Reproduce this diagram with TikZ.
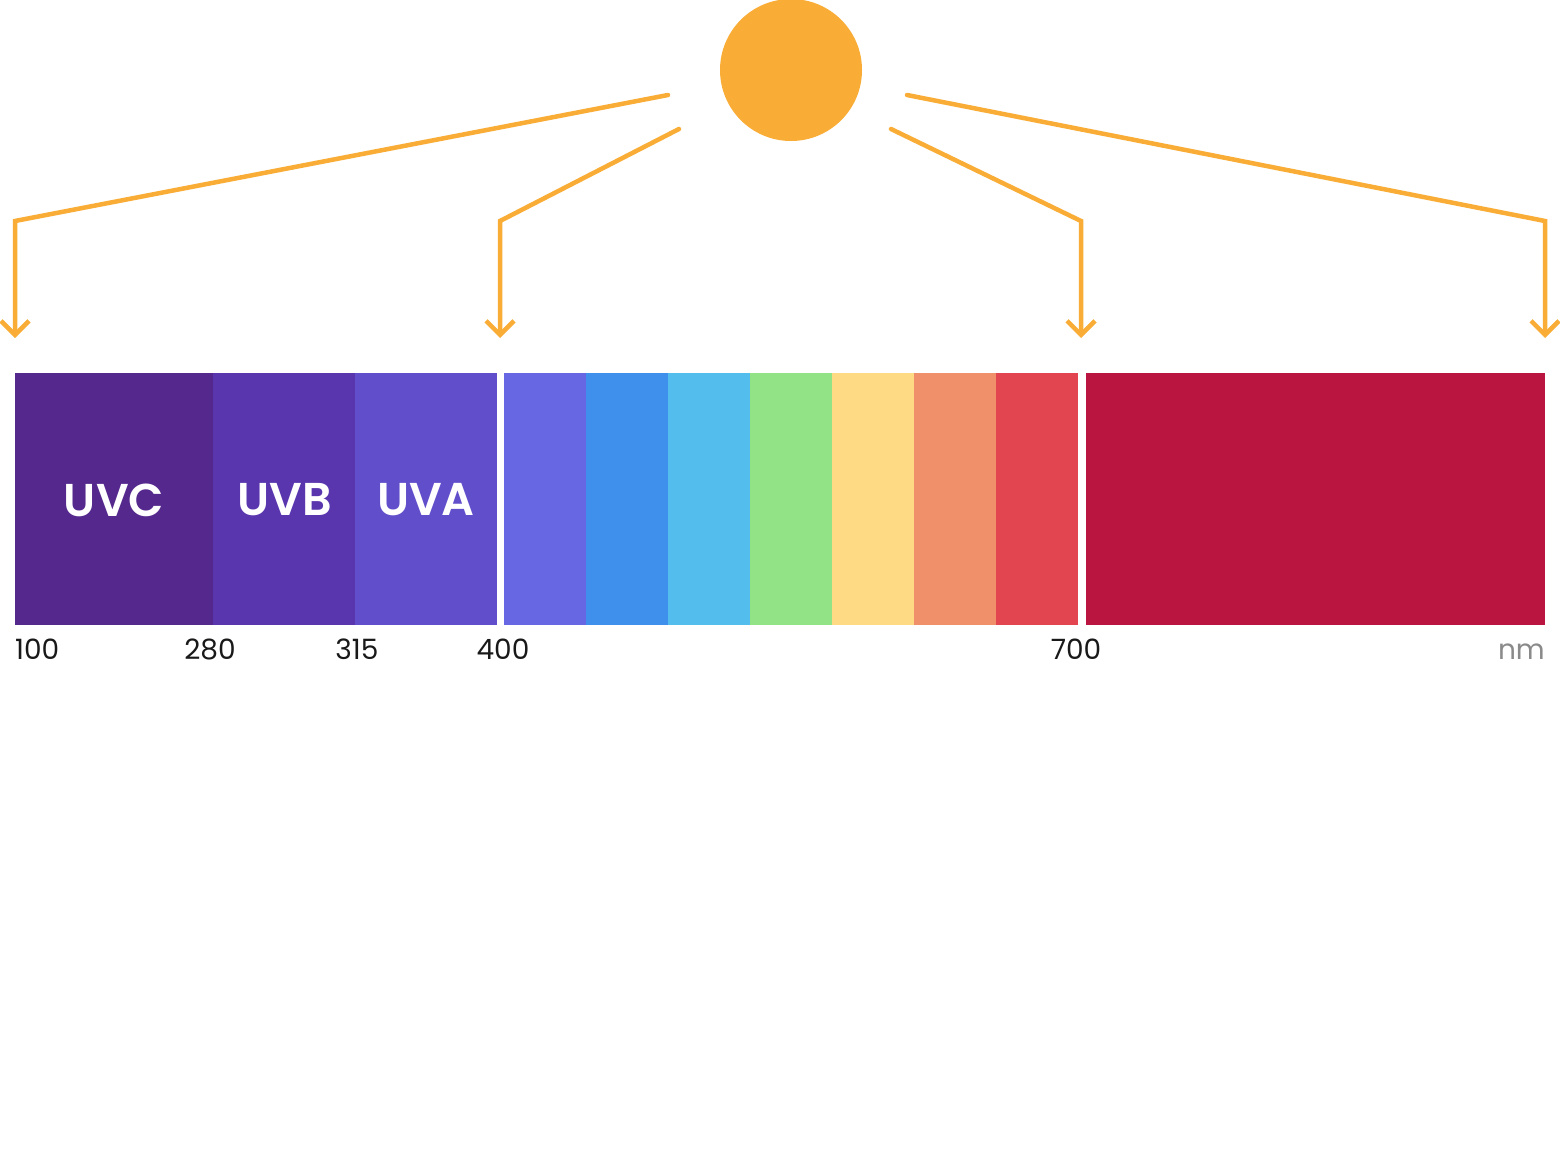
\documentclass[tikz,border=0pt]{standalone}
\usepackage{fontspec}
\setmainfont{Poppins}
\newfontfamily\labfont{Poppins}[UprightFont=* SemiBold]
\definecolor{sun}{HTML}{F9AD36}
\definecolor{cUVC}{HTML}{54288C}
\definecolor{cUVB}{HTML}{5935AE}
\definecolor{cUVA}{HTML}{614ECB}
\definecolor{cV1}{HTML}{6766E3}
\definecolor{cV2}{HTML}{3F8FED}
\definecolor{cV3}{HTML}{53BEEE}
\definecolor{cV4}{HTML}{92E286}
\definecolor{cV5}{HTML}{FEDA85}
\definecolor{cV6}{HTML}{F0906B}
\definecolor{cV7}{HTML}{E24550}
\definecolor{cIR}{HTML}{BA1440}
\definecolor{nmgray}{HTML}{8A8A8A}
\usetikzlibrary{arrows.meta}
\begin{document}
\begin{tikzpicture}[x=1pt,y=-1pt,
  ray/.style={draw=sun,line width=4.5pt,line join=miter,line cap=round,
    -{Straight Barb[length=14pt,width=28pt,line width=4.5pt]}},
  band/.style={draw=none,inner sep=0pt,outer sep=0pt,minimum height=252pt,anchor=north west},
  uvlabel/.style={text=white,font=\labfont\fontsize{46}{46}\selectfont},
  tick/.style={text=black!90,font=\fontsize{28}{28}\selectfont,inner sep=0pt,anchor=base}]
\useasboundingbox (0,0) rectangle (1560,1170);
\fill[white] (0,0) rectangle (1560,1170);
% sun
\node[circle,fill=sun,minimum size=142pt,inner sep=0pt] (sun) at (791,70) {};
% spectrum bands
\node[band,fill=cUVC,minimum width=198pt] (uvc) at (15,373) {};
\node[band,fill=cUVB,minimum width=142pt] (uvb) at (213,373) {};
\node[band,fill=cUVA,minimum width=142pt] (uva) at (355,373) {};
\node[band,fill=cV1,minimum width=82pt] (v1) at (504,373) {};
\node[band,fill=cV2,minimum width=82pt] (v2) at (586,373) {};
\node[band,fill=cV3,minimum width=82pt] (v3) at (668,373) {};
\node[band,fill=cV4,minimum width=82pt] (v4) at (750,373) {};
\node[band,fill=cV5,minimum width=82pt] (v5) at (832,373) {};
\node[band,fill=cV6,minimum width=82pt] (v6) at (914,373) {};
\node[band,fill=cV7,minimum width=82pt] (v7) at (996,373) {};
\node[band,fill=cIR,minimum width=459pt] (ir) at (1086,373) {};
% labels
\node[uvlabel] (luvc) at (114,500) {UVC};
\node[uvlabel] (luvb) at (285,500) {UVB};
\node[uvlabel] (luva) at (426,500) {UVA};
% ticks
\node[tick,anchor=base west] (t100) at (15,659) {100};
\node[tick] (t280) at (210,659) {280};
\node[tick] (t315) at (357,659) {315};
\node[tick] (t400) at (503,659) {400};
\node[tick] (t700) at (1076,659) {700};
\node[tick,anchor=base east,text=nmgray] (tnm) at (1545,659) {nm};
% ray start, bend and end points
\coordinate (s1) at (668,95);
\coordinate (s2) at (679,129);
\coordinate (s3) at (891,129);
\coordinate (s4) at (907,95);
\coordinate (b1) at (15,221);
\coordinate (b2) at (500,221);
\coordinate (b3) at (1081,221);
\coordinate (b4) at (1545,221);
\coordinate (e1) at (15,338);
\coordinate (e2) at (500,338);
\coordinate (e3) at (1081,338);
\coordinate (e4) at (1545,338);
\draw[ray] (s1) -- (b1) -- (e1);
\draw[ray] (s2) -- (b2) -- (e2);
\draw[ray] (s3) -- (b3) -- (e3);
\draw[ray] (s4) -- (b4) -- (e4);
\end{tikzpicture}
\end{document}
